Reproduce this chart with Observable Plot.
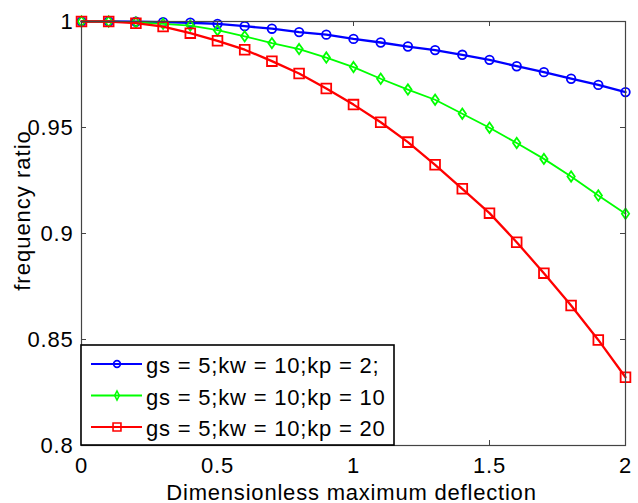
<!DOCTYPE html>
<html>
<head>
<meta charset="utf-8">
<script src="https://cdn.jsdelivr.net/npm/d3@7"></script>
<script src="https://cdn.jsdelivr.net/npm/@observablehq/plot@0.6"></script>
<style>
  body { margin: 0; background: #fff; }
  #chart svg { display: block; overflow: visible; }
</style>
</head>
<body>
<div id="chart"></div>
<script>
// Dimensionless maximum deflection (x) and frequency ratio for three foundation stiffness cases
const deflection = [0, 0.1, 0.2, 0.3, 0.4, 0.5, 0.6, 0.7, 0.8, 0.9, 1.0,
                    1.1, 1.2, 1.3, 1.4, 1.5, 1.6, 1.7, 1.8, 1.9, 2.0];
const ratioKp2  = [1.0000, 1.0000, 0.9999, 0.9997, 0.9994, 0.9989, 0.9978, 0.9966, 0.9950, 0.9938, 0.9918,
                   0.9901, 0.9882, 0.9865, 0.9843, 0.9819, 0.9789, 0.9761, 0.9730, 0.9701, 0.9667];
const ratioKp10 = [1.0000, 1.0000, 0.9996, 0.9989, 0.9981, 0.9959, 0.9930, 0.9898, 0.9870, 0.9830, 0.9785,
                   0.9730, 0.9679, 0.9631, 0.9565, 0.9499, 0.9427, 0.9352, 0.9269, 0.9179, 0.9093];
const ratioKp20 = [1.0000, 1.0000, 0.9992, 0.9976, 0.9945, 0.9909, 0.9867, 0.9813, 0.9755, 0.9684, 0.9608,
                   0.9525, 0.9431, 0.9324, 0.9211, 0.9096, 0.8959, 0.8813, 0.8660, 0.8498, 0.8322];

const seriesLabels = ["gs = 5;kw = 10;kp = 2;", "gs = 5;kw = 10;kp = 10", "gs = 5;kw = 10;kp = 20"];
const seriesColors = ["#0000ff", "#00ff00", "#ff0000"];

const xTicks = [0, 0.5, 1, 1.5, 2];
const yTicks = [0.8, 0.85, 0.9, 0.95, 1];
const xLabel = "Dimensionless maximum deflection";
const yLabel = "frequency ratio";

// Marker shapes (size is an area, as in d3.symbol)
const circleSym = {draw(ctx, size) { const r = Math.sqrt(size / Math.PI); ctx.moveTo(r, 0); ctx.arc(0, 0, r, 0, 2 * Math.PI); }};
const diamondSym = {draw(ctx, size) { const r = Math.sqrt(size / Math.PI); const w = r * 0.85, h = r * 1.2;
  ctx.moveTo(0, -h); ctx.lineTo(w, 0); ctx.lineTo(0, h); ctx.lineTo(-w, 0); ctx.closePath(); }};
const squareSym = {draw(ctx, size) { const r = Math.sqrt(size / Math.PI); const s = r * 0.9;
  ctx.moveTo(-s, -s); ctx.lineTo(s, -s); ctx.lineTo(s, s); ctx.lineTo(-s, s); ctx.closePath(); }};
const seriesSymbols = [circleSym, diamondSym, squareSym];
const seriesRadius = [4.3, 4.3, 5.4];
const seriesWidth = [2.3, 1.8, 2.3];

const seriesValues = [ratioKp2, ratioKp10, ratioKp20];
const series = seriesValues.map((vals, i) => deflection.map((x, j) => ({x, y: vals[j], series: seriesLabels[i]})));

const W = 638, H = 503;
const mL = 81, mR = 13, mT = 21, mB = 58;
const frameW = W - mL - mR, frameH = H - mT - mB;
const tickLen = 5;
const axisColor = "#444";

const marks = [];
series.forEach((rows, i) => {
  marks.push(Plot.line(rows, {x: "x", y: "y", stroke: seriesColors[i], strokeWidth: seriesWidth[i]}));
  marks.push(Plot.dot(rows, {x: "x", y: "y", stroke: seriesColors[i], strokeWidth: 1.8, fill: "none",
                             symbol: seriesSymbols[i], r: seriesRadius[i]}));
});

// inward tick marks on all four sides
marks.push(Plot.tickX(xTicks, {x: d => d, insetTop: frameH - tickLen, stroke: axisColor, strokeWidth: 1}));
marks.push(Plot.tickX(xTicks, {x: d => d, insetBottom: frameH - tickLen, stroke: axisColor, strokeWidth: 1}));
marks.push(Plot.tickY(yTicks, {y: d => d, insetRight: frameW - tickLen, stroke: axisColor, strokeWidth: 1}));
marks.push(Plot.tickY(yTicks, {y: d => d, insetLeft: frameW - tickLen, stroke: axisColor, strokeWidth: 1}));

marks.push(Plot.axisX({ticks: xTicks, tickSize: 0, tickPadding: 12, label: null, tickFormat: d => String(d)}));
marks.push(Plot.axisY({ticks: yTicks, tickSize: 0, tickPadding: 8, label: null, tickFormat: d => String(+d.toFixed(2))}));

marks.push(Plot.text([xLabel], {frameAnchor: "bottom", text: d => d, dx: -2, dy: 47, lineAnchor: "middle", fill: "black"}));

marks.push(Plot.frame({stroke: axisColor, strokeWidth: 1.2}));

const chart = Plot.plot({
  width: W, height: H,
  marginLeft: mL, marginRight: mR, marginTop: mT, marginBottom: mB,
  x: {domain: [0, 2]},
  y: {domain: [0.8, 1]},
  style: {fontFamily: "'Liberation Sans', Arial, sans-serif", fontSize: "22px", letterSpacing: "0.8px", color: "black", background: "white"},
  marks
});
document.getElementById("chart").appendChild(chart);

const svg = d3.select(chart);

// vertical axis title
svg.append("text")
  .attr("transform", "translate(30,210.5) rotate(-90)")
  .attr("text-anchor", "middle")
  .attr("fill", "black")
  .style("letter-spacing", "1px")
  .text(yLabel);

// legend box in the lower-left corner of the axes
const lg = svg.append("g").attr("class", "legend").attr("text-anchor", "start");
const boxX = mL, boxY = 345, boxW = 313, boxH = H - mB - 345;
lg.append("rect").attr("x", boxX).attr("y", boxY).attr("width", boxW).attr("height", boxH)
  .attr("fill", "white").attr("stroke", "black").attr("stroke-width", 1.6);
const rowY = [364, 395.5, 427];
const legendR = [3.4, 3.4, 4.4];
seriesLabels.forEach((label, i) => {
  const y = rowY[i];
  lg.append("line").attr("x1", 91).attr("x2", 142).attr("y1", y).attr("y2", y)
    .attr("stroke", seriesColors[i]).attr("stroke-width", 1.8);
  const sym = i === 1
    ? {draw(ctx) { ctx.moveTo(0, -4.5); ctx.lineTo(2.3, 0); ctx.lineTo(0, 4.5); ctx.lineTo(-2.3, 0); ctx.closePath(); }}
    : seriesSymbols[i];
  lg.append("path").attr("transform", `translate(117,${y})`)
    .attr("d", d3.symbol(sym, Math.PI * legendR[i] * legendR[i])())
    .attr("fill", "none").attr("stroke", seriesColors[i]).attr("stroke-width", 1.6);
  lg.append("text").attr("x", 146).attr("y", y + 9).attr("text-anchor", "start").attr("fill", "black").text(label);
});
</script>
</body>
</html>
